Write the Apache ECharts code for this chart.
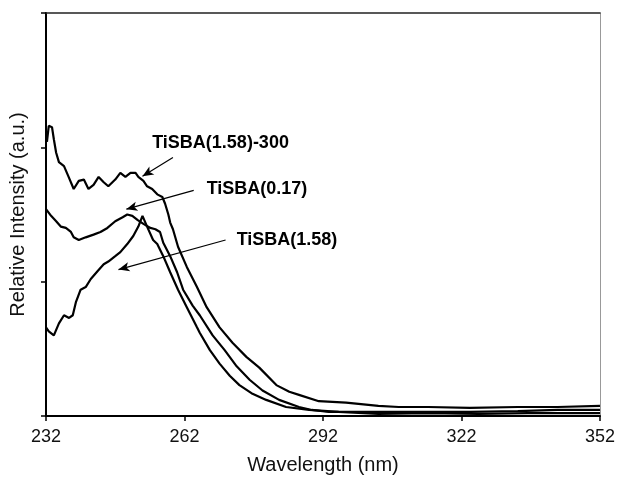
<!DOCTYPE html>
<html><head><meta charset="utf-8">
<script src="https://cdn.jsdelivr.net/npm/echarts@6/dist/echarts.min.js"></script>
<style>html,body{margin:0;padding:0;background:#fff}#c{width:618px;height:480px}</style>
</head><body><div id="c"></div>
<script>
// Wavelength (nm) / relative intensity (a.u.)
const xTicks = [232, 262, 292, 322, 352];

const seriesNames = ['TiSBA(1.58)-300', 'TiSBA(0.17)', 'TiSBA(1.58)'];

const wlA = [232.2,232.6,233.3,233.7,234.2,234.8,235.9,236.9,238.0,239.1,240.2,241.2,242.3,243.4,244.5,245.5,247.0,248.1,249.2,250.3,251.4,252.0,253.1,253.9,255.0,256.1,257.2,257.8,258.5,258.9,259.5,260.6,262.5,264.7,266.8,269.6,272.4,275.4,278.2,281.9,284.7,286.8,291.1,297.0,304.0,308.4,314.8,323.8,334.2,342.8,352.0];
const intA = [2.04,2.16,2.15,2.06,1.96,1.89,1.86,1.78,1.69,1.75,1.76,1.69,1.72,1.78,1.74,1.71,1.76,1.81,1.78,1.81,1.81,1.78,1.75,1.71,1.69,1.65,1.63,1.58,1.50,1.44,1.39,1.26,1.11,0.96,0.81,0.66,0.545,0.44,0.36,0.23,0.18,0.157,0.11,0.10,0.075,0.067,0.067,0.06,0.067,0.067,0.075];

const wlB = [232.0,233.1,234.2,235.2,236.3,237.4,238.0,239.1,240.6,242.3,243.8,245.3,247.0,248.6,249.6,250.7,251.8,253.1,254.6,255.7,256.7,257.4,258.9,260.4,261.7,263.8,265.3,268.1,270.7,273.3,276.1,278.9,282.5,286.8,289.6,293.3,304.0,314.8,323.8,334.2,342.8,352.0];
const intB = [1.54,1.49,1.45,1.41,1.40,1.37,1.33,1.31,1.33,1.35,1.37,1.40,1.45,1.48,1.50,1.49,1.46,1.43,1.40,1.39,1.37,1.29,1.19,1.07,0.94,0.82,0.75,0.60,0.49,0.37,0.27,0.19,0.12,0.067,0.045,0.03,0.03,0.03,0.03,0.037,0.045,0.045];

const wlC = [232.0,232.6,233.7,234.8,235.9,237.0,237.8,238.5,239.5,240.6,241.7,243.2,244.5,245.5,247.0,248.1,249.6,250.9,252.0,252.9,253.9,255.2,256.1,257.4,258.9,260.6,262.5,264.7,265.3,267.5,269.6,271.8,273.9,276.5,279.7,284.0,289.0,295.4,304.0,314.8,325.6,336.3,352.0];
const intC = [0.66,0.63,0.60,0.69,0.75,0.73,0.75,0.85,0.94,0.96,1.02,1.08,1.13,1.15,1.19,1.22,1.28,1.34,1.41,1.49,1.41,1.31,1.28,1.19,1.07,0.94,0.81,0.66,0.62,0.49,0.39,0.30,0.23,0.17,0.12,0.067,0.045,0.03,0.015,0.022,0.015,0.022,0.022];

// annotation: label, text anchor [wl, int], arrow tail, arrow tip
const annoText = ['TiSBA(1.58)-300', 'TiSBA(0.17)', 'TiSBA(1.58)'];
const annoAt   = [[255.0, 2.03], [266.8, 1.69], [273.3, 1.31]];
const arrowFrom = [[259.5, 1.925], [264.0, 1.68], [270.9, 1.31]];
const arrowTo   = [[252.9, 1.785], [249.4, 1.54], [247.7, 1.09]];

const F = '"Liberation Sans", Arial, Helvetica, sans-serif';
const chart = echarts.init(document.getElementById('c'), null, {renderer: 'canvas'});

function pairs(xs, ys) { return xs.map((x, i) => [x, ys[i]]); }
const data = [pairs(wlA, intA), pairs(wlB, intB), pairs(wlC, intC)];

const series = data.map((d, i) => ({
  name: seriesNames[i], type: 'line', data: d, showSymbol: false, smooth: false,
  lineStyle: {color: '#000', width: 2.2}, animation: false, z: 3
}));
series[0].markLine = {
  silent: true, animation: false, symbol: ['none', 'arrow'], symbolSize: [7, 11],
  label: {show: false}, lineStyle: {color: '#000', width: 1.2, type: 'solid'},
  data: arrowFrom.map((f, i) => [{coord: f}, {coord: arrowTo[i]}])
};

chart.setOption({
  animation: false,
  backgroundColor: '#fff',
  grid: {left: 45, right: 15, top: 13, bottom: 64},
  xAxis: [{
    type: 'value', min: xTicks[0], max: xTicks[xTicks.length - 1], interval: 30,
    name: 'Wavelength (nm)', nameLocation: 'middle', nameGap: 39,
    nameTextStyle: {fontFamily: F, fontSize: 20, color: '#111'},
    axisLine: {show: true, onZero: false, lineStyle: {color: '#000', width: 2}},
    axisTick: {show: true, length: 5, lineStyle: {color: '#000', width: 1.5}},
    axisLabel: {fontFamily: F, fontSize: 18, color: '#111', margin: 12},
    splitLine: {show: false}
  }, {
    type: 'value', position: 'top', min: xTicks[0], max: xTicks[xTicks.length - 1],
    axisLine: {show: true, onZero: false, lineStyle: {color: '#222', width: 1.5}},
    axisTick: {show: false}, axisLabel: {show: false}, splitLine: {show: false}
  }],
  yAxis: [{
    type: 'value', min: 0, max: 3, interval: 1,
    name: 'Relative Intensity (a.u.)', nameLocation: 'middle', nameGap: 18,
    nameTextStyle: {fontFamily: F, fontSize: 20, color: '#111'},
    axisLine: {show: true, onZero: false, lineStyle: {color: '#000', width: 2}},
    axisTick: {show: true, length: 5, lineStyle: {color: '#000', width: 1.5}},
    axisLabel: {show: false}, splitLine: {show: false}
  }, {
    type: 'value', position: 'right', min: 0, max: 3,
    axisLine: {show: true, onZero: false, lineStyle: {color: '#999', width: 1}},
    axisTick: {show: false}, axisLabel: {show: false}, splitLine: {show: false}
  }],
  series: series
});

const texts = annoText.map((t, i) => {
  const p = chart.convertToPixel({xAxisIndex: 0, yAxisIndex: 0}, annoAt[i]);
  return {type: 'text', x: p[0], y: p[1], z: 10,
    style: {text: t, fontFamily: F, fontSize: 18, fontWeight: 'bold', fill: '#000',
      textAlign: 'left', textVerticalAlign: 'middle'}};
});
chart.setOption({graphic: texts});
</script></body></html>
